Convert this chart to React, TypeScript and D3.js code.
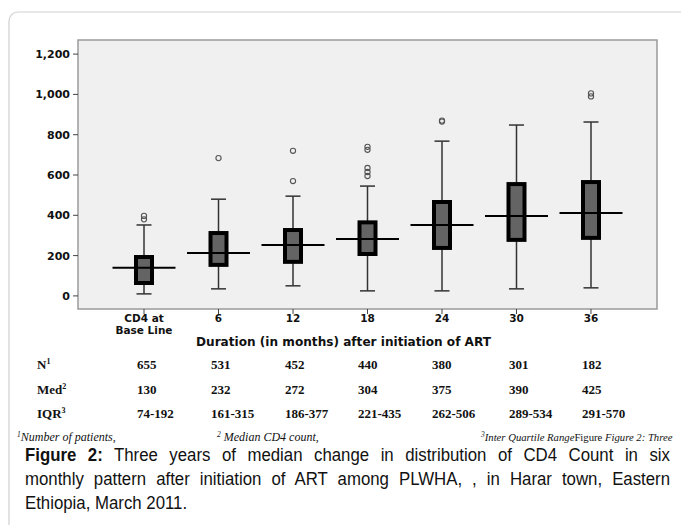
import React, { useLayoutEffect, useRef, useState } from "react";
import * as d3 from "d3";

const categories = ["CD4 at|Base Line", "6", "12", "18", "24", "30", "36"];
const q1 = [64, 154, 169, 208, 238, 278, 288];
const medians = [140, 213, 253, 283, 352, 397, 411];
const q3 = [193, 312, 327, 365, 466, 555, 565];
const whiskerLow = [10, 35, 50, 25, 25, 35, 40];
const whiskerHigh = [352, 480, 495, 545, 768, 848, 863];
const outliers = [[380, 397], [684], [570, 720], [595, 615, 635, 725, 740], [865, 870], [], [990, 1005]];
const yTicks = [0, 200, 400, 600, 800, 1000, 1200];

const nValues = ["655", "531", "452", "440", "380", "301", "182"];
const medValues = ["130", "232", "272", "304", "375", "390", "425"];
const iqrValues = ["74-192", "161-315", "186-377", "221-435", "262-506", "289-534", "291-570"];
const tableCols = [137, 211, 285, 358, 432, 509, 582];

const captionLines = [
  "Three years of median change in distribution of CD4 Count in six",
  "monthly pattern after  initiation of ART among PLWHA, ,  in Harar town, Eastern",
  "Ethiopia, March 2011.",
];

function JustifiedText({ x, y, width, children }: any) {
  const ref = useRef<SVGTextElement>(null);
  const [ws, setWs] = useState(0);
  useLayoutEffect(() => {
    if (!ref.current) return;
    const el = ref.current;
    el.setAttribute("word-spacing", "0");
    const w = el.getComputedTextLength();
    const txt = (el.textContent || "").replace(/\s+/g, " ").trim();
    const spaces = (txt.match(/ /g) || []).length;
    if (spaces > 0) setWs((width - w) / spaces);
  }, [width]);
  return (
    <text ref={ref} x={x} y={y} wordSpacing={ws}>
      {children}
    </text>
  );
}

export default function App() {
  const W = 681, H = 525;
  const left = 78, right = 657, top = 40, bottom = 309;
  const x = d3.scalePoint<string>().domain(categories).range([left, right]).padding(0.886);
  const y = d3.scaleLinear().domain([-65, 1270]).range([bottom, top]);
  const axisFont = "DejaVu Sans, Arial, sans-serif";
  const boxW = 16, medW = 63, capW = 15;
  const serif = "Liberation Serif, Times New Roman, serif";
  const sans = "Liberation Sans, Arial, sans-serif";
  const sx = 0.96;
  return (
    <svg width={W} height={H} style={{ position: "absolute", left: 0, top: 0 }}>
      <rect x={0} y={0} width={W} height={H} fill="#fff" />
      <rect x={9} y={12} width={W + 20} height={H + 20} rx={9} fill="none" stroke="#cfcfcf" strokeWidth={1.2} />
      <rect x={left} y={top} width={right - left} height={bottom - top} fill="#f0f0f0" stroke="#9a9a9a" strokeWidth={1.5} />
      {yTicks.map((t) => (
        <g key={t}>
          <line x1={left - 5} x2={left} y1={y(t)} y2={y(t)} stroke="#444" strokeWidth={1} />
          <text x={left - 8} y={y(t) + 4} textAnchor="end" fontFamily={axisFont} fontWeight="bold" fontSize={11} fill="#111">
            {d3.format(",")(t)}
          </text>
        </g>
      ))}
      {categories.map((c, i) => {
        const cx = x(c) as number;
        const lines = c.split("|");
        return (
          <g key={c}>
            <line x1={cx} x2={cx} y1={bottom} y2={bottom + 5} stroke="#444" strokeWidth={1} />
            {lines.map((l, j) => (
              <text key={j} x={cx} y={322 + j * 11.5} textAnchor="middle" fontFamily={axisFont} fontWeight="bold" fontSize={10.5} fill="#111">
                {l}
              </text>
            ))}
            <line x1={cx} x2={cx} y1={y(whiskerLow[i])} y2={y(q1[i])} stroke="#333" strokeWidth={1.5} />
            <line x1={cx} x2={cx} y1={y(whiskerHigh[i])} y2={y(q3[i])} stroke="#333" strokeWidth={1.5} />
            <line x1={cx - capW / 2} x2={cx + capW / 2} y1={y(whiskerLow[i])} y2={y(whiskerLow[i])} stroke="#333" strokeWidth={1.5} />
            <line x1={cx - capW / 2} x2={cx + capW / 2} y1={y(whiskerHigh[i])} y2={y(whiskerHigh[i])} stroke="#333" strokeWidth={1.5} />
            <rect x={cx - boxW / 2} y={y(q3[i])} width={boxW} height={y(q1[i]) - y(q3[i])} fill="#646464" stroke="#000" strokeWidth={4} />
            <line x1={cx - medW / 2} x2={cx + medW / 2} y1={y(medians[i])} y2={y(medians[i])} stroke="#000" strokeWidth={2} />
            {outliers[i].map((o, k) => (
              <circle key={k} cx={cx} cy={y(o)} r={2.6} fill="none" stroke="#555" strokeWidth={1.1} />
            ))}
          </g>
        );
      })}
      <text x={343.5} y={346} textAnchor="middle" fontFamily={axisFont} fontWeight="bold" fontSize={11.5} fill="#111"
        textLength={295} lengthAdjust="spacingAndGlyphs">
        Duration (in months) after initiation of ART
      </text>

      {[
        { lab: "N", sup: "1", vals: nValues, yy: 369 },
        { lab: "Med", sup: "2", vals: medValues, yy: 394 },
        { lab: "IQR", sup: "3", vals: iqrValues, yy: 418 },
      ].map((row) => (
        <g key={row.lab} fontFamily={serif} fontWeight="bold" fontSize={13} fill="#111">
          <text x={37} y={row.yy}>
            {row.lab}
            <tspan fontSize={8} dy={-5}>{row.sup}</tspan>
          </text>
          {row.vals.map((v, i) => (
            <text key={i} x={tableCols[i]} y={row.yy}>{v}</text>
          ))}
        </g>
      ))}

      <g fontFamily={serif} fontStyle="italic" fontSize={12} fill="#111">
        <text x={17} y={441}>
          <tspan fontSize={7.5} dy={-4}>1</tspan>
          <tspan dy={4}>Number of patients,</tspan>
        </text>
        <text x={217} y={441}>
          <tspan fontSize={7.5} dy={-4}>2</tspan>
          <tspan dy={4}> Median CD4 count,</tspan>
        </text>
        <text x={481} y={441} fontSize={10.7}>
          <tspan fontSize={7.5} dy={-4}>3</tspan>
          <tspan dy={4}>Inter Quartile Range</tspan>
          <tspan fontStyle="normal">Figure </tspan>
          <tspan>Figure 2: Three</tspan>
        </text>
      </g>

      <g fontFamily={sans} fontSize={17.5} fill="#111" transform={`translate(25,0) scale(${sx},1)`}>
        <JustifiedText x={0} y={461} width={645 / sx}>
          <tspan fontWeight="bold">Figure 2:</tspan>{" " + captionLines[0]}
        </JustifiedText>
        <JustifiedText x={0} y={485} width={645 / sx}>
          {captionLines[1]}
        </JustifiedText>
        <text x={0} y={509}>{captionLines[2]}</text>
      </g>
    </svg>
  );
}
